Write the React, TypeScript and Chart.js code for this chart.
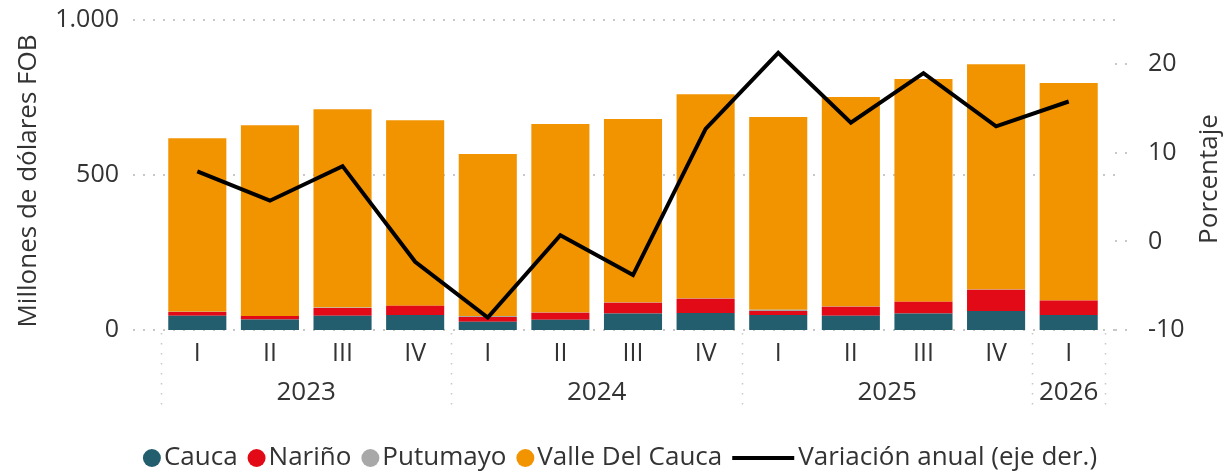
import { useEffect, useRef } from "react";
import { Chart, registerables } from "chart.js";

Chart.register(...registerables);

// ---- data ----
const quarters = ["I", "II", "III", "IV", "I", "II", "III", "IV", "I", "II", "III", "IV", "I"];
const yearLabels = ["2023", "2024", "2025", "2026"];
const yearSpans = [4, 4, 4, 1];
const cauca = [46, 34, 46, 48, 27, 33, 53, 55, 48, 46, 53, 61, 48];
const narino = [12, 11, 25, 30, 15, 23, 35, 46, 13, 29, 38, 69, 47];
const putumayo = [0.5, 0.5, 1.5, 0.5, 3, 0.5, 0.5, 0.5, 4, 0.5, 0.5, 0.5, 0.5];
const valle = [560, 615, 640, 598, 523, 608, 592, 659, 622, 676, 718, 727, 701];
const variacion = [7.9, 4.6, 8.5, -2.3, -8.6, 0.7, -3.8, 12.7, 21.3, 13.4, 19.0, 13.0, 15.8];
const leftTicks = [0, 500, 1000];
const rightTicks = [-10, 0, 10, 20];

const FONT_FAMILY = "'Open Sans', 'Noto Sans', sans-serif";
const TICK_SIZE = 25;
const LABEL_SIZE = 26;
const TEXT = "#333333";
const GRID = "#c8c8c8";

const fmtThousands = (v: number) =>
  String(Math.round(v)).replace(/\B(?=(\d{3})+(?!\d))/g, ".");

export default function App() {
  const ref = useRef<HTMLCanvasElement>(null);

  useEffect(() => {
    document.body.style.margin = "0";
    const canvas = ref.current!;

    const decor = {
      id: "decor",
      beforeDatasetsDraw(chart: any) {
        const { ctx, chartArea, scales } = chart;
        ctx.save();
        ctx.strokeStyle = GRID;
        ctx.lineWidth = 2;
        ctx.setLineDash([2, 8]);
        leftTicks.forEach((v) => {
          const py = Math.round(scales.y.getPixelForValue(v));
          ctx.beginPath();
          ctx.moveTo(chartArea.left - 28, py);
          ctx.lineTo(chartArea.right + 15, py);
          ctx.stroke();
        });
        rightTicks.forEach((v) => {
          const py = Math.round(scales.y1.getPixelForValue(v));
          ctx.beginPath();
          ctx.moveTo(chartArea.right + 10, py);
          ctx.lineTo(chartArea.right + 24, py);
          ctx.stroke();
        });
        ctx.restore();
      },
      afterDraw(chart: any) {
        const { ctx, chartArea, scales } = chart;
        const x = scales.x;
        const step = x.getPixelForValue(1) - x.getPixelForValue(0);
        ctx.save();
        // year separators
        ctx.strokeStyle = GRID;
        ctx.lineWidth = 1.5;
        ctx.setLineDash([1.5, 8.5]);
        let idx = 0;
        const bounds: number[] = [x.getPixelForValue(0) - step / 2];
        yearSpans.forEach((s) => {
          idx += s;
          bounds.push(x.getPixelForValue(idx - 1) + step / 2);
        });
        bounds.forEach((bx) => {
          ctx.beginPath();
          ctx.moveTo(Math.round(bx) + 0.5, chartArea.bottom + 3);
          ctx.lineTo(Math.round(bx) + 0.5, chartArea.bottom + 82);
          ctx.stroke();
        });
        ctx.setLineDash([]);
        // year labels
        ctx.fillStyle = TEXT;
        ctx.font = `${LABEL_SIZE}px ${FONT_FAMILY}`;
        ctx.textAlign = "center";
        ctx.textBaseline = "middle";
        yearLabels.forEach((lab, i) => {
          const cx = (bounds[i] + bounds[i + 1]) / 2;
          ctx.fillText(lab, cx, chartArea.bottom + 63);
        });
        // axis titles
        ctx.save();
        ctx.translate(29, 181);
        ctx.rotate(-Math.PI / 2);
        ctx.fillText("Millones de dólares FOB", 0, 0);
        ctx.restore();
        ctx.save();
        ctx.translate(1210, 179);
        ctx.rotate(-Math.PI / 2);
        ctx.fillText("Porcentaje", 0, 0);
        ctx.restore();
        // legend
        const ly = 458;
        const items = chart.data.datasets.map((d: any) => ({
          label: d.label,
          color: d.type === "line" ? d.borderColor : d.backgroundColor,
          line: d.type === "line",
        }));
        const markerW = (it: any) => (it.line ? 62 : 18);
        const gapAfterMarker = (it: any) => (it.line ? 4 : 3);
        const gapBetween = 10;
        let total = 0;
        items.forEach((it: any, i: number) => {
          total += markerW(it) + gapAfterMarker(it) + ctx.measureText(it.label).width;
          if (i < items.length - 1) total += gapBetween;
        });
        let cx = 620 - total / 2;
        ctx.textAlign = "left";
        items.forEach((it: any) => {
          if (it.line) {
            ctx.strokeStyle = it.color;
            ctx.lineWidth = 4;
            ctx.beginPath();
            ctx.moveTo(cx, ly);
            ctx.lineTo(cx + 62, ly);
            ctx.stroke();
          } else {
            ctx.fillStyle = it.color;
            ctx.beginPath();
            ctx.arc(cx + 9, ly, 9, 0, Math.PI * 2);
            ctx.fill();
          }
          cx += markerW(it) + gapAfterMarker(it);
          ctx.fillStyle = TEXT;
          ctx.fillText(it.label, cx, ly);
          cx += ctx.measureText(it.label).width + gapBetween;
        });
        ctx.restore();
      },
    };

    const chart = new Chart(canvas, {
      type: "bar",
      data: {
        labels: quarters,
        datasets: [
          { label: "Cauca", data: cauca, backgroundColor: "#235e6e", yAxisID: "y", order: 1, stack: "s" },
          { label: "Nariño", data: narino, backgroundColor: "#e20a16", yAxisID: "y", order: 1, stack: "s" },
          { label: "Putumayo", data: putumayo, backgroundColor: "#a8a8a8", yAxisID: "y", order: 1, stack: "s" },
          { label: "Valle Del Cauca", data: valle, backgroundColor: "#f29300", yAxisID: "y", order: 1, stack: "s" },
          { type: "line", label: "Variación anual (eje der.)", data: variacion, yAxisID: "y1", borderColor: "#000000", backgroundColor: "#000000", borderWidth: 4, pointRadius: 0, tension: 0, order: 0, borderJoinStyle: "miter" } as any,
        ],
      },
      options: {
        animation: false,
        responsive: false,
        maintainAspectRatio: false,
        layout: { padding: { top: 20, left: 0, right: 0, bottom: 0 } },
        datasets: { bar: { categoryPercentage: 1, barPercentage: 0.8 } },
        plugins: { legend: { display: false }, tooltip: { enabled: false } },
        scales: {
          x: {
            stacked: true,
            grid: { display: false, drawTicks: false },
            border: { display: false },
            ticks: { color: TEXT, font: { family: FONT_FAMILY, size: TICK_SIZE }, padding: 9, maxRotation: 0, autoSkip: false },
            afterFit: (s: any) => { s.height = 143; s.paddingLeft = 0; s.paddingRight = 0; },
          },
          y: {
            stacked: true,
            position: "left",
            min: 0,
            max: 1000,
            grid: { display: false, drawTicks: false },
            border: { display: false },
            ticks: { stepSize: 500, color: TEXT, font: { family: FONT_FAMILY, size: TICK_SIZE }, padding: 42, callback: (v: any) => fmtThousands(Number(v)) },
            afterBuildTicks: (s: any) => { s.ticks = leftTicks.map((v) => ({ value: v })); },
            afterFit: (s: any) => { s.width = 161; s.paddingTop = 0; s.paddingBottom = 0; },
          },
          y1: {
            position: "right",
            min: -10,
            max: 25,
            grid: { display: false, drawTicks: false },
            border: { display: false },
            ticks: { color: TEXT, font: { family: FONT_FAMILY, size: TICK_SIZE }, padding: 43 },
            afterBuildTicks: (s: any) => { s.ticks = rightTicks.map((v) => ({ value: v })); },
            afterFit: (s: any) => { s.width = 120; s.paddingTop = 0; s.paddingBottom = 0; },
          },
        },
      },
      plugins: [decor],
    });
    return () => chart.destroy();
  }, []);

  return (
    <div style={{ width: 1225, height: 473 }}>
      <canvas ref={ref} width={1225} height={473} style={{ display: "block" }} />
    </div>
  );
}
